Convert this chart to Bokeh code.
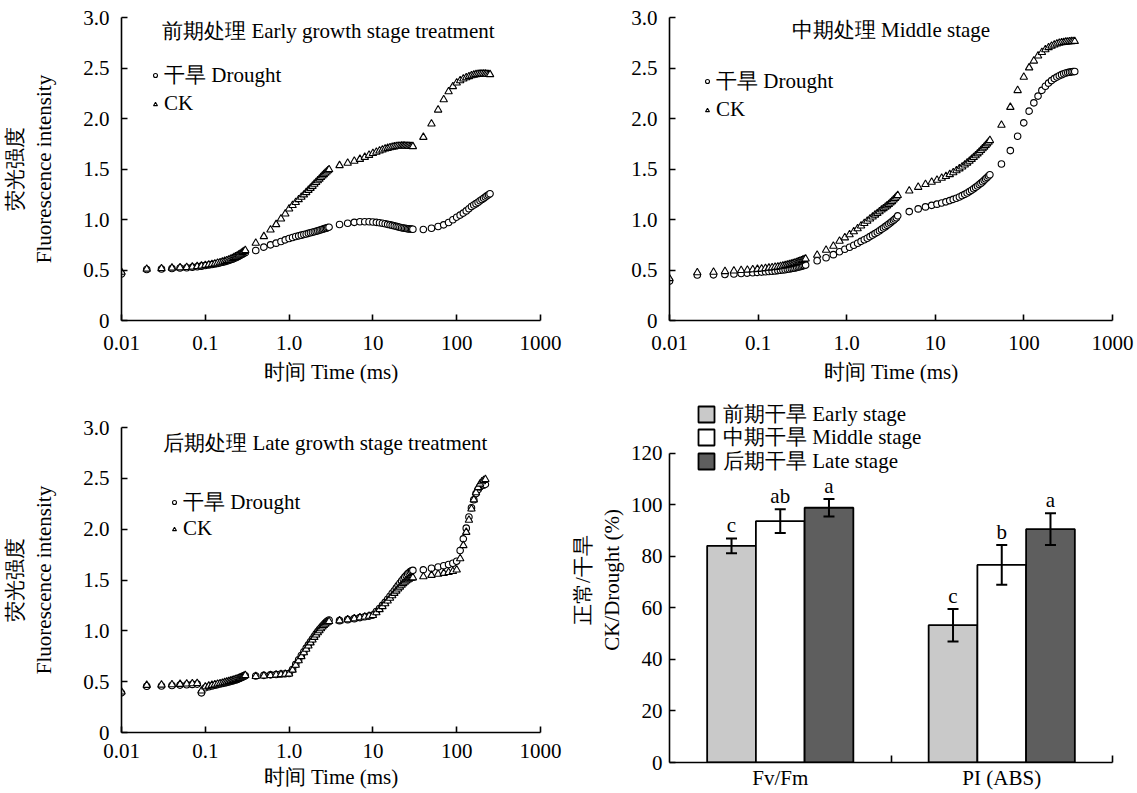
from bokeh.plotting import figure
from bokeh.models import (ColumnDataSource, FixedTicker, Legend, LegendItem, Label,
                          LabelSet, Whisker, TeeHead, Range1d)
from bokeh.transform import dodge
from bokeh.layouts import column, row
from bokeh.embed import file_html
from bokeh.resources import INLINE

# ---------------- data ----------------
# time axis (ms), early & late stage measurements
time_g1 = [0.01, 0.02, 0.03, 0.04, 0.05, 0.06, 0.07, 0.08, 0.09, 0.10,
           0.11, 0.12, 0.13, 0.14, 0.15, 0.16, 0.17, 0.18, 0.19, 0.20,
           0.21, 0.22, 0.23, 0.24, 0.25, 0.26, 0.27, 0.28, 0.29, 0.30]
time_g2 = [0.4, 0.5, 0.6, 0.7, 0.8, 0.9, 1.0, 1.1, 1.2, 1.3, 1.4, 1.5, 1.6, 1.7,
           1.8, 1.9, 2.0, 2.1, 2.2, 2.3, 2.4, 2.5, 2.6, 2.7, 2.8, 2.9, 3.0]
time_g3 = [4, 5, 6, 7, 8, 9, 10, 11, 12, 13, 14, 15, 16, 17, 18, 19, 20,
           21, 22, 23, 24, 25, 26, 27, 28, 29, 30]
time_early_g4 = [40, 50, 60, 70, 80, 90, 100, 110, 120, 130, 140, 150, 160,
                 170, 180, 190, 200, 210, 220, 230, 240, 250]
time_late_g4 = [40, 50, 60, 70, 80, 90, 100, 110, 120, 130, 140, 150, 160,
                170, 180, 190, 200, 210, 220]
time_early = time_g1 + time_g2 + time_g3 + time_early_g4
time_late = time_g1 + time_g2 + time_g3 + time_late_g4
# middle-stage panel: positions
time_middle = [0.0100, 0.0206, 0.0314, 0.0423, 0.0533, 0.0644, 0.0757, 0.0870, 0.0983, 0.1096,
               0.1211, 0.1325, 0.1440, 0.1556, 0.1671, 0.1788, 0.1904, 0.2021, 0.2138, 0.2254,
               0.2372, 0.2490, 0.2607, 0.2725, 0.2843, 0.2962, 0.3080, 0.3199, 0.3318, 0.3438,
               0.464, 0.585, 0.707, 0.830, 0.953, 1.077, 1.202, 1.328, 1.453, 1.580,
               1.706, 1.833, 1.960, 2.088, 2.216, 2.344, 2.472, 2.601, 2.730, 2.859,
               2.988, 3.118, 3.247, 3.378, 3.508, 3.638, 3.768,
               5.08, 6.41, 7.75, 9.10, 10.45, 11.81, 13.18, 14.56, 15.94, 17.32,
               18.71, 20.10, 21.49, 22.89, 24.29, 25.70, 27.10, 28.52, 29.93, 31.35,
               32.77, 34.19, 35.61, 37.04, 38.46, 39.89, 41.34,
               55.8, 70.3, 85.0, 99.7, 114.6, 129.5, 144.5, 159.6, 174.7, 189.9,
               205.1, 220.4, 235.6, 251.0, 266.4, 281.8, 297.2, 312.7, 328.2, 343.7,
               359.3, 374.8]

early_drought = [0.46, 0.505, 0.51, 0.515, 0.52, 0.523, 0.527, 0.532, 0.538, 0.545,
                 0.55, 0.555, 0.56, 0.565, 0.57, 0.576, 0.582, 0.588, 0.594, 0.60,
                 0.607, 0.614, 0.621, 0.628, 0.635, 0.643, 0.651, 0.658, 0.665, 0.672,
                 0.693, 0.726, 0.749, 0.766, 0.782, 0.798, 0.812, 0.822, 0.831, 0.838,
                 0.845, 0.851, 0.857, 0.863, 0.869, 0.874, 0.879, 0.884, 0.889, 0.894,
                 0.898, 0.903, 0.907, 0.912, 0.916, 0.92, 0.924,
                 0.95, 0.963, 0.972, 0.977, 0.978, 0.977, 0.975, 0.972, 0.968, 0.963,
                 0.958, 0.952, 0.947, 0.942, 0.937, 0.932, 0.927, 0.923, 0.919, 0.916,
                 0.913, 0.911, 0.909, 0.907, 0.906, 0.905, 0.904,
                 0.901, 0.914, 0.931, 0.947, 0.97, 0.997, 1.023, 1.043, 1.063, 1.085,
                 1.107, 1.129, 1.143, 1.157, 1.171, 1.185, 1.198, 1.21, 1.222, 1.234,
                 1.245, 1.255]
early_ck = [0.48, 0.51, 0.515, 0.52, 0.523, 0.526, 0.53, 0.535, 0.54, 0.547,
            0.552, 0.557, 0.562, 0.568, 0.574, 0.58, 0.587, 0.594, 0.601, 0.608,
            0.616, 0.624, 0.632, 0.64, 0.649, 0.658, 0.667, 0.676, 0.685, 0.695,
            0.766, 0.832, 0.898, 0.951, 1.007, 1.056, 1.106, 1.14, 1.17, 1.198,
            1.222, 1.245, 1.268, 1.29, 1.31, 1.33, 1.35, 1.368, 1.385, 1.401,
            1.417, 1.432, 1.446, 1.459, 1.472, 1.484, 1.495,
            1.535, 1.558, 1.578, 1.597, 1.617, 1.637, 1.655, 1.668, 1.68, 1.69,
            1.699, 1.706, 1.712, 1.717, 1.721, 1.724, 1.726, 1.727, 1.728, 1.728,
            1.728, 1.727, 1.727, 1.726, 1.725, 1.724, 1.723,
            1.815, 1.947, 2.085, 2.188, 2.267, 2.317, 2.353, 2.375, 2.393, 2.405,
            2.416, 2.425, 2.431, 2.436, 2.439, 2.441, 2.442, 2.442, 2.441, 2.44,
            2.438, 2.436]

middle_drought = [0.39, 0.45, 0.452, 0.456, 0.461, 0.465, 0.469, 0.473, 0.476, 0.479,
                  0.482, 0.485, 0.488, 0.491, 0.494, 0.497, 0.50, 0.503, 0.507, 0.51,
                  0.514, 0.517, 0.521, 0.525, 0.529, 0.533, 0.537, 0.541, 0.545, 0.549,
                  0.591, 0.621, 0.652, 0.68, 0.705, 0.725, 0.745, 0.765, 0.783, 0.8,
                  0.815, 0.83, 0.845, 0.86, 0.874, 0.888, 0.902, 0.916, 0.929, 0.942,
                  0.955, 0.968, 0.98, 0.993, 1.005, 1.018, 1.036,
                  1.078, 1.105, 1.125, 1.14, 1.152, 1.163, 1.175, 1.187, 1.199, 1.211,
                  1.223, 1.236, 1.249, 1.262, 1.276, 1.29, 1.304, 1.318, 1.332, 1.346,
                  1.36, 1.374, 1.388, 1.402, 1.416, 1.43, 1.443,
                  1.549, 1.682, 1.824, 1.957, 2.073, 2.155, 2.222, 2.278, 2.32, 2.35,
                  2.375, 2.395, 2.41, 2.423, 2.434, 2.443, 2.45, 2.455, 2.459, 2.462,
                  2.464, 2.465]
middle_ck = [0.416, 0.475, 0.48, 0.486, 0.492, 0.496, 0.50, 0.504, 0.508, 0.512,
             0.516, 0.52, 0.524, 0.528, 0.532, 0.536, 0.54, 0.545, 0.55, 0.555,
             0.56, 0.565, 0.57, 0.576, 0.582, 0.588, 0.594, 0.60, 0.605, 0.61,
             0.648, 0.697, 0.737, 0.787, 0.82, 0.85, 0.88, 0.91, 0.937, 0.962,
             0.985, 1.007, 1.027, 1.045, 1.062, 1.079, 1.095, 1.109, 1.123, 1.137,
             1.151, 1.165, 1.179, 1.194, 1.209, 1.224, 1.24,
             1.284, 1.32, 1.348, 1.37, 1.39, 1.41, 1.428, 1.446, 1.465, 1.484,
             1.503, 1.522, 1.541, 1.56, 1.579, 1.597, 1.615, 1.633, 1.651, 1.668,
             1.685, 1.702, 1.718, 1.734, 1.75, 1.766, 1.783,
             1.935, 2.112, 2.278, 2.41, 2.503, 2.57, 2.62, 2.655, 2.682, 2.703,
             2.718, 2.73, 2.739, 2.746, 2.751, 2.755, 2.758, 2.76, 2.762, 2.763,
             2.764, 2.765]

late_drought = [0.39, 0.455, 0.458, 0.462, 0.466, 0.47, 0.473, 0.476, 0.39, 0.44,
                0.45, 0.458, 0.465, 0.471, 0.477, 0.482, 0.487, 0.492, 0.497, 0.502,
                0.507, 0.512, 0.517, 0.522, 0.528, 0.534, 0.54, 0.546, 0.552, 0.558,
                0.556, 0.562, 0.567, 0.571, 0.575, 0.578, 0.58, 0.62, 0.67, 0.715,
                0.757, 0.795, 0.83, 0.862, 0.892, 0.92, 0.946, 0.97, 0.992, 1.012,
                1.031, 1.048, 1.063, 1.077, 1.089, 1.099, 1.107,
                1.10, 1.11, 1.12, 1.13, 1.138, 1.145, 1.155, 1.19, 1.22, 1.25,
                1.28, 1.31, 1.34, 1.37, 1.395, 1.42, 1.445, 1.468, 1.49, 1.51,
                1.528, 1.545, 1.56, 1.572, 1.582, 1.59, 1.595,
                1.60, 1.615, 1.628, 1.64, 1.652, 1.665, 1.685, 1.79, 1.905, 2.01,
                2.12, 2.21, 2.29, 2.35, 2.39, 2.415, 2.43, 2.435, 2.44]
late_ck = [0.40, 0.465, 0.468, 0.472, 0.475, 0.478, 0.481, 0.484, 0.41, 0.45,
           0.458, 0.465, 0.471, 0.477, 0.482, 0.487, 0.492, 0.497, 0.502, 0.507,
           0.512, 0.517, 0.522, 0.527, 0.533, 0.539, 0.545, 0.551, 0.556, 0.562,
           0.553, 0.558, 0.563, 0.567, 0.571, 0.574, 0.577, 0.615, 0.663, 0.707,
           0.748, 0.786, 0.821, 0.853, 0.883, 0.911, 0.937, 0.961, 0.983, 1.003,
           1.022, 1.039, 1.054, 1.067, 1.078, 1.087, 1.093,
           1.10, 1.11, 1.12, 1.13, 1.138, 1.145, 1.152, 1.18, 1.21, 1.24,
           1.268, 1.295, 1.322, 1.347, 1.37, 1.392, 1.413, 1.432, 1.45, 1.466,
           1.48, 1.492, 1.502, 1.51, 1.516, 1.52, 1.523,
           1.534, 1.547, 1.558, 1.567, 1.575, 1.585, 1.60, 1.71, 1.84, 1.97,
           2.09, 2.2, 2.29, 2.36, 2.41, 2.445, 2.468, 2.48, 2.49]

x_tick_values = [0.01, 0.1, 1, 10, 100, 1000]
x_tick_labels = ["0.01", "0.1", "1.0", "10", "100", "1000"]
y_tick_values = [0, 0.5, 1, 1.5, 2, 2.5, 3]
y_tick_labels = ["0", "0.5", "1.0", "1.5", "2.0", "2.5", "3.0"]

# bar chart: CK/Drought (%)
bar_categories = ["Fv/Fm", "PI (ABS)"]
stage_names = ["前期干旱 Early stage", "中期干旱 Middle stage", "后期干旱 Late stage"]
early_ratio = [84.1, 53.3]
early_err = [2.9, 6.3]
early_sig = ["c", "c"]
middle_ratio = [93.7, 76.7]
middle_err = [4.6, 7.7]
middle_sig = ["ab", "b"]
late_ratio = [98.9, 90.6]
late_err = [3.4, 6.2]
late_sig = ["a", "a"]
bar_y_ticks = [0, 20, 40, 60, 80, 100, 120]
bar_axis_max = 120

# ---------------- styling ----------------
FONT = "Liberation Serif"
FS = "21px"


def style(p):
    p.grid.visible = False
    p.outline_line_color = None
    for ax in p.axis:
        ax.axis_line_color = "black"
        ax.axis_line_width = 1.6
        ax.major_tick_line_color = "black"
        ax.major_tick_line_width = 1.6
        ax.major_tick_in = 6
        ax.major_tick_out = 0
        ax.minor_tick_line_color = None
        ax.major_label_text_font = FONT
        ax.major_label_text_font_size = FS
        ax.major_label_text_color = "black"
        ax.axis_label_text_font = FONT
        ax.axis_label_text_font_size = FS
        ax.axis_label_text_font_style = "normal"
        ax.axis_label_text_color = "black"


def add_legend(p, entries, spots, glyph_width, standoff):
    # one single-entry legend per row so the row pitch matches the original
    for (label, rend), (vx, vy) in zip(entries, spots):
        p.add_layout(Legend(items=[LegendItem(label=label, renderers=[rend])],
                            location=(vx, vy), padding=0, margin=0, spacing=0,
                            glyph_width=glyph_width, glyph_height=20,
                            label_height=20, label_standoff=standoff,
                            border_line_color=None, background_fill_alpha=0,
                            label_text_font=FONT, label_text_font_size=FS,
                            label_text_color="black"))


def curve_panel(width, height, borders, time, drought, ck, title, title_xy,
                legend_spots, ylabel, xstand):
    left, right, top, bottom = borders
    p = figure(width=width, height=height, x_axis_type="log",
               x_range=Range1d(0.01, 1000), y_range=Range1d(0, 3),
               output_backend="svg", toolbar_location=None,
               min_border_left=left, min_border_right=right,
               min_border_top=top, min_border_bottom=bottom)
    src = ColumnDataSource(dict(t=time, drought=drought, ck=ck))
    r1 = p.scatter("t", "drought", source=src, marker="circle", size=6.5,
                   fill_color="white", line_color="black", line_width=1.1)
    r2 = p.scatter("t", "ck", source=src, marker="triangle", size=7.5,
                   fill_color="white", line_color="black", line_width=1.1)
    style(p)
    p.xaxis.ticker = FixedTicker(ticks=x_tick_values)
    p.xaxis.major_label_overrides = dict(zip(x_tick_values, x_tick_labels))
    p.yaxis.ticker = FixedTicker(ticks=y_tick_values)
    p.yaxis.major_label_overrides = dict(zip(y_tick_values, y_tick_labels))
    p.xaxis.axis_label = "时间 Time (ms)"
    p.xaxis.major_label_standoff = xstand[0]
    p.xaxis.axis_label_standoff = xstand[1]
    p.yaxis.major_label_standoff = 12
    if ylabel:
        p.yaxis.axis_label = ylabel
        p.yaxis.axis_label_standoff = 24
    add_legend(p, [("干旱 Drought", r1), ("CK", r2)], legend_spots, 10, 4)
    p.add_layout(Label(x=title_xy[0], y=title_xy[1], text=title,
                       text_align="center", text_baseline="middle",
                       text_font=FONT, text_font_size=FS, text_color="black"))
    return p


ylab = "荧光强度\nFluorescence intensity"
p1 = curve_panel(568, 393, (112, 28, 17, 73), time_early, early_drought, early_ck,
                 "前期处理 Early growth stage  treatment", (3.16, 2.87),
                 [(29, 231), (29, 204)], ylab, (15, 7))
p2 = curve_panel(567, 393, (95, 23, 17, 73), time_middle, middle_drought, middle_ck,
                 "中期处理 Middle stage", (3.16, 2.88),
                 [(33, 225), (33, 198)], None, (15, 7))
p3 = curve_panel(568, 399, (112, 28, 34, 60), time_late, late_drought, late_ck,
                 "后期处理  Late growth stage  treatment", (3.12, 2.85),
                 [(48, 216), (48, 191)], ylab, (11, 4))

# ---------------- bar chart ----------------
# frame extends above the 120 axis end so the legend (which sits above it) is not clipped
cat_pos = [i + 0.5 for i in range(len(bar_categories))]
p4 = figure(width=567, height=399, x_range=Range1d(0, len(bar_categories)),
            y_range=Range1d(0, 141.7), output_backend="svg", toolbar_location=None,
            min_border_left=95, min_border_right=23, min_border_top=4,
            min_border_bottom=29)
series = [(early_ratio, early_err, early_sig, "#c9c9c9", -0.22),
          (middle_ratio, middle_err, middle_sig, "#ffffff", 0.0),
          (late_ratio, late_err, late_sig, "#5e5e5e", 0.22)]
bar_entries = []
for (vals, errs, sig, color, off), name in zip(series, stage_names):
    src = ColumnDataSource(dict(x=cat_pos, top=vals,
                                upper=[v + e for v, e in zip(vals, errs)],
                                lower=[v - e for v, e in zip(vals, errs)],
                                sig=sig))
    xd = dodge("x", off, range=p4.x_range)
    r = p4.vbar(x=xd, top="top", width=0.22, bottom=0, source=src,
                fill_color=color, line_color="black", line_width=1.8)
    w = Whisker(base=xd, upper="upper", lower="lower", source=src,
                line_width=2, line_color="black", level="annotation",
                upper_head=TeeHead(size=11, line_width=2, line_color="black"),
                lower_head=TeeHead(size=11, line_width=2, line_color="black"))
    p4.add_layout(w)
    p4.add_layout(LabelSet(x=xd, y="upper", text="sig", source=src, y_offset=1,
                           text_align="center", text_baseline="bottom",
                           text_font=FONT, text_font_size=FS, text_color="black"))
    bar_entries.append((name, r))

style(p4)
p4.xaxis.ticker = FixedTicker(ticks=cat_pos, minor_ticks=[1, 2])
p4.xaxis.major_label_overrides = dict(zip(cat_pos, bar_categories))
p4.xaxis.major_tick_in = 0
p4.xaxis.minor_tick_line_color = "black"
p4.xaxis.minor_tick_line_width = 1.6
p4.xaxis.minor_tick_in = 7
p4.xaxis.minor_tick_out = 0
p4.xaxis.major_label_standoff = 3
p4.yaxis.ticker = FixedTicker(ticks=bar_y_ticks)
p4.yaxis.bounds = (0, bar_axis_max)
p4.yaxis.major_label_standoff = 7
p4.yaxis.axis_label = "正常/干旱\nCK/Drought (%)"
p4.yaxis.axis_label_standoff = 4
add_legend(p4, bar_entries, [(27, 334), (27, 311), (27, 287)], 20, 7)

layout = row(column(p1, p3), column(p2, p4))
open("out.html", "w").write(file_html(layout, INLINE))
